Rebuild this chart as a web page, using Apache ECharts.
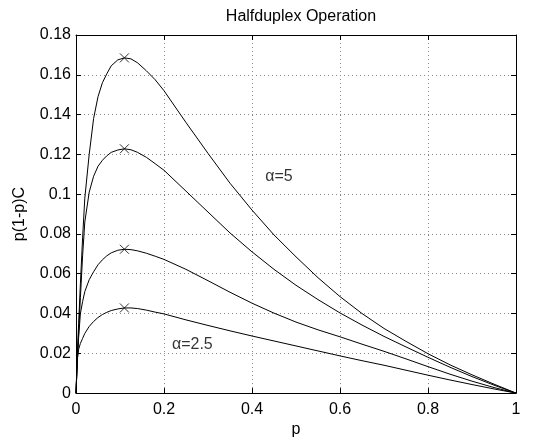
<!DOCTYPE html>
<html>
<head>
<meta charset="utf-8">
<script src="https://cdn.jsdelivr.net/npm/echarts@6/dist/echarts.min.js"></script>
<style>html,body{margin:0;padding:0;background:#fff}#c{width:542px;height:443px}</style>
</head>
<body>
<div id="c"></div>
<script>
const P = [0, 0.003, 0.006, 0.01, 0.015, 0.02, 0.03, 0.04, 0.05, 0.06, 0.07, 0.08, 0.095, 0.11, 0.125, 0.14, 0.16, 0.18, 0.2, 0.25, 0.3, 0.35, 0.4, 0.45, 0.5, 0.55, 0.6, 0.65, 0.7, 0.75, 0.8, 0.85, 0.9, 0.95, 1.0];
const curveA = [0, 0.020, 0.035, 0.055, 0.078, 0.098, 0.120, 0.138, 0.149, 0.156, 0.1605, 0.1645, 0.1675, 0.1685, 0.168, 0.166, 0.162, 0.1575, 0.152, 0.136, 0.1205, 0.1055, 0.092, 0.0795, 0.0685, 0.058, 0.0485, 0.040, 0.0325, 0.026, 0.0198, 0.0142, 0.0092, 0.0045, 0];
const curveB = [0, 0.017, 0.030, 0.048, 0.069, 0.086, 0.101, 0.109, 0.114, 0.117, 0.1193, 0.121, 0.1222, 0.1228, 0.1223, 0.121, 0.1185, 0.1153, 0.112, 0.1015, 0.091, 0.0805, 0.071, 0.0622, 0.0542, 0.047, 0.0403, 0.0342, 0.0285, 0.0232, 0.018, 0.013, 0.0083, 0.004, 0];
const curveC = [0, 0.016, 0.028, 0.040, 0.046, 0.051, 0.057, 0.061, 0.0645, 0.067, 0.069, 0.0705, 0.0718, 0.0723, 0.0721, 0.0715, 0.0703, 0.0688, 0.0672, 0.0622, 0.0565, 0.0507, 0.0452, 0.0402, 0.0357, 0.0318, 0.0283, 0.0246, 0.021, 0.0172, 0.0133, 0.0095, 0.006, 0.0028, 0];
const curveD = [0, 0.017, 0.022, 0.025, 0.0275, 0.030, 0.0335, 0.036, 0.038, 0.0395, 0.0406, 0.0415, 0.0423, 0.0428, 0.0428, 0.0425, 0.0417, 0.0407, 0.0398, 0.0368, 0.034, 0.0313, 0.0287, 0.0262, 0.0237, 0.0212, 0.0187, 0.0163, 0.014, 0.0115, 0.009, 0.0066, 0.0043, 0.0021, 0];
const markP = 0.11;
const markV = [0.1685, 0.1228, 0.0723, 0.0428];
const labels = [{text: 'α=5', p: 0.43, v: 0.109}, {text: 'α=2.5', p: 0.218, v: 0.0245}];
const xTicks = [0, 0.2, 0.4, 0.6, 0.8, 1];
const yTicks = [0, 0.02, 0.04, 0.06, 0.08, 0.1, 0.12, 0.14, 0.16, 0.18];

const FONT = 'Liberation Sans';
const FS = 16;
const chart = echarts.init(document.getElementById('c'), null, {renderer: 'canvas'});
const axisLine = {show: true, onZero: false, lineStyle: {color: '#000', width: 1}};
const tick = {show: true, inside: true, length: 5, lineStyle: {color: '#000', width: 1}};
const grid = {show: true, lineStyle: {color: '#888', width: 1, type: [1, 3]}};
function mk(vals) {
  return {type: 'line', data: P.map((p, i) => [p, vals[i]]), symbol: 'none', smooth: false,
    lineStyle: {color: '#000', width: 1}, silent: true, animation: false, z: 3};
}
chart.setOption({
  animation: false,
  backgroundColor: '#fff',
  title: {text: 'Halfduplex Operation', left: 296, top: 4, textAlign: 'center',
    textStyle: {fontFamily: FONT, fontSize: FS, fontWeight: 'normal', color: '#000'}},
  grid: {left: 76, right: 26, top: 35, bottom: 46, containLabel: false},
  xAxis: [
    {type: 'value', min: 0, max: 1, interval: 0.2, position: 'bottom', axisLine, axisTick: tick, splitLine: grid,
      name: 'p', nameLocation: 'middle', nameGap: 28, nameTextStyle: {fontFamily: FONT, fontSize: FS, color: '#000'},
      axisLabel: {fontFamily: FONT, fontSize: FS, color: '#000', margin: 8, formatter: v => xTicks.includes(+v.toFixed(2)) ? String(+v.toFixed(2)) : ''}},
    {type: 'value', min: 0, max: 1, interval: 0.2, position: 'top', axisLine, axisTick: tick, splitLine: {show: false}, axisLabel: {show: false}}
  ],
  yAxis: [
    {type: 'value', min: 0, max: 0.18, interval: 0.02, position: 'left', axisLine, axisTick: tick, splitLine: grid,
      name: 'p(1-p)C', nameLocation: 'middle', nameGap: 48, nameRotate: 90, nameTextStyle: {fontFamily: FONT, fontSize: FS, color: '#000'},
      axisLabel: {fontFamily: FONT, fontSize: FS, color: '#000', margin: 5, formatter: v => yTicks.includes(+v.toFixed(2)) ? String(+v.toFixed(2)) : ''}},
    {type: 'value', min: 0, max: 0.18, interval: 0.02, position: 'right', axisLine, axisTick: tick, splitLine: {show: false}, axisLabel: {show: false}}
  ],
  series: [
    mk(curveA), mk(curveB), mk(curveC), mk(curveD),
    {type: 'scatter', data: markV.map(v => [markP, v]), symbol: 'path://M0,0L10,10M10,0L0,10', symbolSize: 9,
      itemStyle: {color: 'none', borderColor: '#000', borderWidth: 1}, silent: true, z: 4},
    {type: 'scatter', data: labels.map(l => ({value: [l.p, l.v], name: l.text})), symbolSize: 0, silent: true, z: 5,
      label: {show: true, position: 'right', distance: 0, formatter: p => p.name,
        fontFamily: FONT, fontSize: FS, color: '#000'}}
  ]
});
</script>
</body>
</html>
